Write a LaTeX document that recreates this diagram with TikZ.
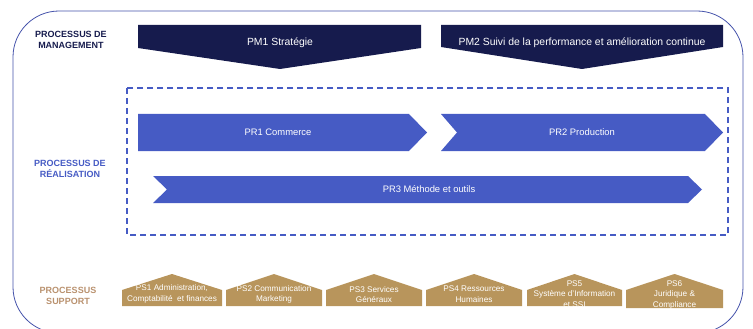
\documentclass[tikz,border=0pt]{standalone}
\usepackage{fontspec}
\setmainfont{Liberation Sans}
\usetikzlibrary{positioning}

\definecolor{navy}{RGB}{22,27,77}
\definecolor{prblue}{RGB}{70,91,196}
\definecolor{frame}{RGB}{68,82,170}
\definecolor{tan}{RGB}{184,149,92}
\definecolor{tanlabel}{RGB}{185,145,110}

\tikzset{
  label/.style={font=\bfseries\fontsize{9}{10.5}\selectfont,align=center},
  pmtext/.style={font=\fontsize{10.4}{12}\selectfont,text=white},
  prtext/.style={font=\fontsize{9.4}{11}\selectfont,text=white},
  pstext/.style={font=\fontsize{8.2}{10.5}\selectfont,text=white,align=center},
}

\begin{document}
\begin{tikzpicture}[x=1pt,y=-1pt]
\useasboundingbox (0,0) rectangle (753,329);
\draw[frame,line width=0.8pt,rounded corners=46pt] (13,11) rectangle (743,333);

% left labels
\node[label,text=navy] (lblm) at (71,40) {PROCESSUS DE\\MANAGEMENT};
\node[label,text=prblue] (lblr) at (70,169) {PROCESSUS DE\\RÉALISATION};
\node[label,text=tanlabel] (lbls) at (68,296) {PROCESSUS\\SUPPORT};

% management
\draw[fill=navy,draw=none] (138,25) -- (421,25) -- (421,48) -- (280,69) -- (138,48) -- cycle;
\node[pmtext] (pm1) at (280,42.5) {PM1 Stratégie};
\draw[fill=navy,draw=none] (441,25) -- (723,25) -- (723,47) -- (582,69) -- (441,47) -- cycle;
\node[pmtext] (pm2) at (582,42.5) {PM2 Suivi de la performance et amélioration continue};

% realisation
\draw[prblue,line width=1.3pt,dash pattern=on 6pt off 4pt] (127,88) rectangle (728,235);
\draw[fill=prblue,draw=none] (138,114) -- (409,114) -- (427,132.5) -- (409,151) -- (138,151) -- cycle;
\node[prtext] (pr1) at (278,132.5) {PR1 Commerce};
\draw[fill=prblue,draw=none] (441,114) -- (705,114) -- (723,132.5) -- (705,151) -- (441,151) -- (457,132.5) -- cycle;
\node[prtext] (pr2) at (582,132.5) {PR2 Production};
\draw[fill=prblue,draw=none] (153,176) -- (688,176) -- (702,189.5) -- (688,203) -- (153,203) -- (167,189.5) -- cycle;
\node[prtext] (pr3) at (429,189.5) {PR3 Méthode et outils};

% support
\draw[fill=tan,draw=none] (122,306) -- (122,290) -- (172,274) -- (222,290) -- (222,306) -- cycle;
\node[pstext] (ps1) at (172,294) {PS1 Administration,\\Comptabilité~ et finances};
\draw[fill=tan,draw=none] (226,306) -- (226,290) -- (274,274) -- (322,290) -- (322,306) -- cycle;
\node[pstext] (ps2) at (274,294.5) {PS2 Communication\\Marketing};
\draw[fill=tan,draw=none] (326,306) -- (326,290) -- (374,274) -- (422,290) -- (422,306) -- cycle;
\node[pstext] (ps3) at (374,294.5) {PS3 Services\\Généraux};
\draw[fill=tan,draw=none] (426,306) -- (426,290) -- (474,274) -- (522,290) -- (522,306) -- cycle;
\node[pstext] (ps4) at (474,294) {PS4 Ressources\\Humaines};
\draw[fill=tan,draw=none] (527,306) -- (527,290) -- (574.5,274) -- (622,290) -- (622,306) -- cycle;
\node[pstext] (ps5) at (574.5,294) {PS5\\Système d'Information\\et SSI};
\draw[fill=tan,draw=none] (626,308) -- (626,290) -- (674.5,274) -- (723,290) -- (723,308) -- cycle;
\node[pstext] (ps6) at (674.5,294.5) {PS6\\Juridique \&\\Compliance};

\end{tikzpicture}
\end{document}
